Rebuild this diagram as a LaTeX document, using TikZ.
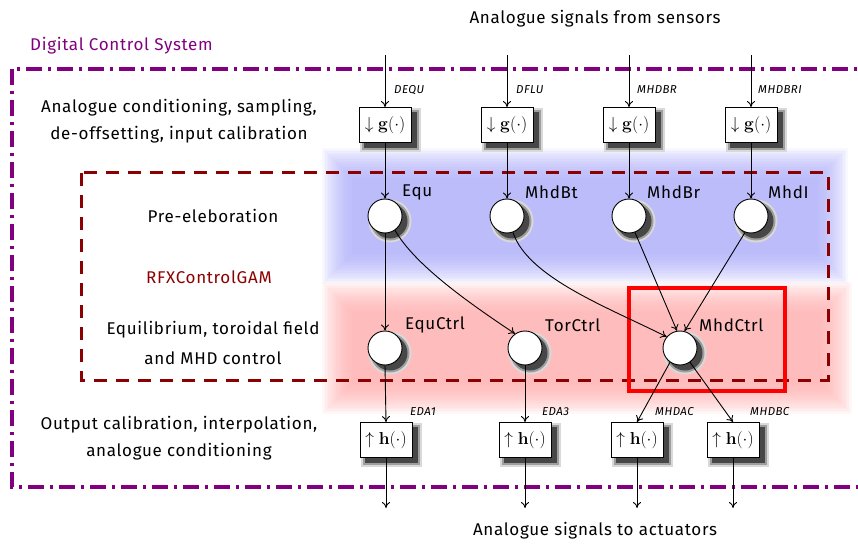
\documentclass[tikz,border=0pt]{standalone}
\usepackage[no-math]{fontspec}
\usepackage{amsmath}
\setmainfont[LetterSpace=4]{Fira Sans}
\usetikzlibrary{arrows.meta,calc}
\definecolor{dcspurple}{RGB}{128,0,128}
\definecolor{gamred}{RGB}{139,0,0}
\definecolor{bandblue}{RGB}{172,172,250}
\definecolor{bandred}{RGB}{255,172,172}
\tikzset{
  sig/.style={draw=black, line width=0.9pt, -{To[length=6pt,width=8pt]}},
  procbox/.style={draw=black, fill=white, line width=0.9pt, inner sep=1.5pt, minimum height=35pt, minimum width=52pt,
     font=\fontsize{19}{21}\selectfont},
  gamnode/.style={circle, draw=black, fill=white, line width=0.9pt, minimum size=34pt, inner sep=0pt},
  bshA/.style={draw=none, fill=black!15, inner sep=0pt, minimum width=61pt, minimum height=44pt},
  bshB/.style={draw=none, fill=black!38, inner sep=0pt, minimum width=57pt, minimum height=40pt},
  bshC/.style={draw=none, fill=black!72, inner sep=0pt, minimum width=53pt, minimum height=36pt},
  cshA/.style={circle, draw=none, fill=black!15, inner sep=0pt, minimum size=43pt},
  cshB/.style={circle, draw=none, fill=black!38, inner sep=0pt, minimum size=39pt},
  cshC/.style={circle, draw=none, fill=black!72, inner sep=0pt, minimum size=35pt},
  bigtxt/.style={font=\fontsize{17}{19}\selectfont, inner sep=0pt},
  nlabel/.style={font=\fontsize{17}{19}\selectfont, inner sep=0pt, anchor=west},
  siglabel/.style={font=\fontsize{11.5}{13}\selectfont\itshape, inner sep=0pt, anchor=west},
}
\newcommand\myboxshadow[2]{%
  \node[bshA] at ({#1+5},{#2+5}) {};
  \node[bshB] at ({#1+5},{#2+5}) {};
  \node[bshC] at ({#1+5},{#2+5}) {};}
\newcommand\mycircshadow[2]{%
  \node[cshA] at ({#1+5},{#2+5}) {};
  \node[cshB] at ({#1+5},{#2+5}) {};
  \node[cshC] at ({#1+5},{#2+5}) {};}
\begin{document}
\begin{tikzpicture}[x=1pt,y=-1pt]
\useasboundingbox (0,0) rectangle (858,545);
% coloured bands (soft edges)
\foreach \i in {0,...,19}{
  \fill[bandblue, opacity=0.08] ({322+1.6*\i},{148+1.6*\i}) rectangle ({848-1.6*\i},{284-1.6*\i});
  \fill[bandred, opacity=0.08] ({322+1.6*\i},{282+1.6*\i}) rectangle ({852-1.6*\i},{414-1.6*\i});
}
% frames
\draw[dcspurple, line width=3.5pt, dash pattern=on 16pt off 6pt on 3pt off 6pt] (12,69) rectangle (880,487);
\node[bigtxt, text=dcspurple, anchor=west] (dcs) at (30,46) {Digital Control System};
\draw[gamred, line width=3pt, dash pattern=on 13pt off 9pt] (81,173) rectangle (828,380);
\node[bigtxt, text=gamred] (gamname) at (209,277) {RFXControlGAM};

% left descriptions
\node[bigtxt, align=center] (t1) at (179,121) {Analogue conditioning, sampling,\\[8pt]de-offsetting, input calibration};
\node[bigtxt] (t2) at (213,216) {Pre-eleboration};
\node[bigtxt, align=center] (t3) at (213,343) {Equilibrium, toroidal field\\[11pt]and MHD control};
\node[bigtxt, align=center] (t4) at (179,438) {Output calibration, interpolation,\\[8pt]analogue conditioning};
\node[bigtxt] (top) at (595,19) {Analogue signals from sensors};
\node[bigtxt] (bot) at (595,531) {Analogue signals to actuators};

% shadows
\myboxshadow{385}{125}\myboxshadow{507}{125}\myboxshadow{629}{125}\myboxshadow{751}{125}
\myboxshadow{386}{440}\myboxshadow{525}{440}\myboxshadow{637}{440}\myboxshadow{733}{440}
\mycircshadow{385}{216}\mycircshadow{507}{216}\mycircshadow{629}{216}\mycircshadow{751}{216}
\mycircshadow{385}{348}\mycircshadow{525}{348}\mycircshadow{680}{348}

% input boxes
\node[procbox] (g1) at (385,125) {$\downarrow\mathbf{g}(\cdot)$};
\node[procbox] (g2) at (507,125) {$\downarrow\mathbf{g}(\cdot)$};
\node[procbox] (g3) at (629,125) {$\downarrow\mathbf{g}(\cdot)$};
\node[procbox] (g4) at (751,125) {$\downarrow\mathbf{g}(\cdot)$};
% output boxes
\node[procbox] (h1) at (386,440) {$\uparrow\mathbf{h}(\cdot)$};
\node[procbox] (h2) at (525,440) {$\uparrow\mathbf{h}(\cdot)$};
\node[procbox] (h3) at (637,440) {$\uparrow\mathbf{h}(\cdot)$};
\node[procbox] (h4) at (733,440) {$\uparrow\mathbf{h}(\cdot)$};

% GAM nodes
\node[gamnode] (equ) at (385,216) {};
\node[gamnode] (bt) at (507,216) {};
\node[gamnode] (br) at (629,216) {};
\node[gamnode] (mi) at (751,216) {};
\node[gamnode] (ec) at (385,348) {};
\node[gamnode] (tc) at (525,348) {};
\node[gamnode] (mc) at (680,348) {};

\node[nlabel] (lequ) at (402,192) {Equ};
\node[nlabel] (lbt) at (525,192) {MhdBt};
\node[nlabel] (lbr) at (647,192) {MhdBr};
\node[nlabel] (lmi) at (768,192) {MhdI};
\node[nlabel] (lec) at (405,325) {EquCtrl};
\node[nlabel] (ltc) at (545,325) {TorCtrl};
\node[nlabel] (lmc) at (699,325) {MhdCtrl};

% highlight
\draw[red, line width=4pt] (629,288) rectangle (785,391);

% inputs
\coordinate (i1) at (385,55);
\coordinate (i2) at (507,55);
\coordinate (i3) at (629,55);
\coordinate (i4) at (751,55);
\draw[sig] (i1) -- (g1.north);
\draw[sig] (i2) -- (g2.north);
\draw[sig] (i3) -- (g3.north);
\draw[sig] (i4) -- (g4.north);
\node[siglabel] (sl1) at (394,90) {DEQU};
\node[siglabel] (sl2) at (516,90) {DFLU};
\node[siglabel] (sl3) at (637,90) {MHDBR};
\node[siglabel] (sl4) at (758,90) {MHDBRI};

\draw[sig] (g1.south) -- (equ.north);
\draw[sig] (g2.south) -- (bt.north);
\draw[sig] (g3.south) -- (br.north);
\draw[sig] (g4.south) -- (mi.north);

% internal
\draw[sig] (equ.south) -- (ec.north);
\draw[sig] (equ.-55) .. controls +(20,35) and +(-45,-30) .. (tc.125);
\draw[sig] (bt.-70) .. controls +(15,45) and +(-60,-30) .. (mc.140);
\draw[sig] (br.-70) -- (mc.100);
\draw[sig] (mi.-110) -- (mc.75);

% outputs
\draw[sig] (ec.south) -- (h1.north);
\draw[sig] (tc.south) -- (h2.north);
\draw[sig] (mc.-125) -- (h3.north);
\draw[sig] (mc.-55) -- (h4.north);
\node[siglabel] (ol1) at (410,412) {EDA1};
\node[siglabel] (ol2) at (542,412) {EDA3};
\node[siglabel] (ol3) at (655,412) {MHDAC};
\node[siglabel] (ol4) at (750,412) {MHDBC};

\coordinate (o1) at (386,508);
\coordinate (o2) at (525,508);
\coordinate (o3) at (637,508);
\coordinate (o4) at (733,508);
\draw[sig] (h1.south) -- (o1);
\draw[sig] (h2.south) -- (o2);
\draw[sig] (h3.south) -- (o3);
\draw[sig] (h4.south) -- (o4);
\end{tikzpicture}
\end{document}
